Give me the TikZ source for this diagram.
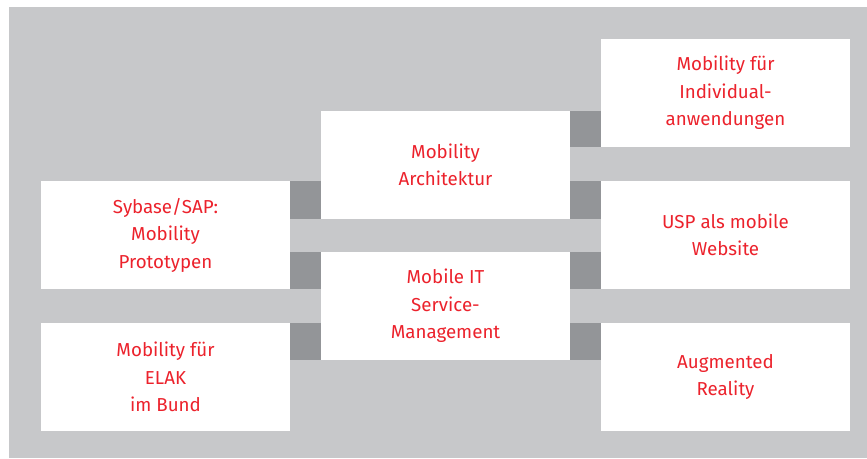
\documentclass[tikz,border=0pt]{standalone}
\usepackage{fontspec}
\setmainfont{Fira Sans}
\usepackage{tikz}
\usetikzlibrary{positioning}
\definecolor{bggray}{RGB}{199,200,202}
\definecolor{linkgray}{RGB}{147,149,152}
\definecolor{txtred}{RGB}{236,34,44}

\begin{document}
\begin{tikzpicture}[
  font=\fontsize{16}{23.5}\selectfont,
  box/.style={fill=white, rectangle, minimum width=7.47cm, minimum height=3.24cm, align=center, text=txtred, inner sep=0pt},
  link/.style={fill=linkgray},
]
\useasboundingbox (0,0) rectangle (26.01,13.74);
\fill[bggray] (0.27,0) rectangle (26.01,13.53);
% three columns of boxes
\node[box] (sap) at (4.965,6.69) {Sybase/SAP:\\Mobility\\Prototypen};
\node[box] (elak) at (4.965,2.43) {Mobility für\\ELAK\\im Bund};
\node[box] (arch) at (13.365,8.79) {Mobility\\Architektur};
\node[box] (itsm) at (13.365,4.56) {Mobile IT\\Service-\\Management};
\node[box] (indiv) at (21.765,10.95) {Mobility für\\Individual-\\anwendungen};
\node[box] (usp) at (21.765,6.69) {USP als mobile\\Website};
\node[box] (ar) at (21.765,2.43) {Augmented\\Reality};
% dark joints where neighbouring boxes overlap
\fill[link] (sap.east |- sap.north) rectangle (arch.west |- arch.south);
\fill[link] (sap.east |- itsm.north) rectangle (itsm.west |- sap.south);
\fill[link] (elak.east |- elak.north) rectangle (itsm.west |- itsm.south);
\fill[link] (arch.east |- indiv.south) rectangle (indiv.west |- arch.north);
\fill[link] (arch.east |- usp.north) rectangle (usp.west |- arch.south);
\fill[link] (itsm.east |- itsm.north) rectangle (usp.west |- usp.south);
\fill[link] (itsm.east |- ar.north) rectangle (ar.west |- itsm.south);
\end{tikzpicture}
\end{document}
